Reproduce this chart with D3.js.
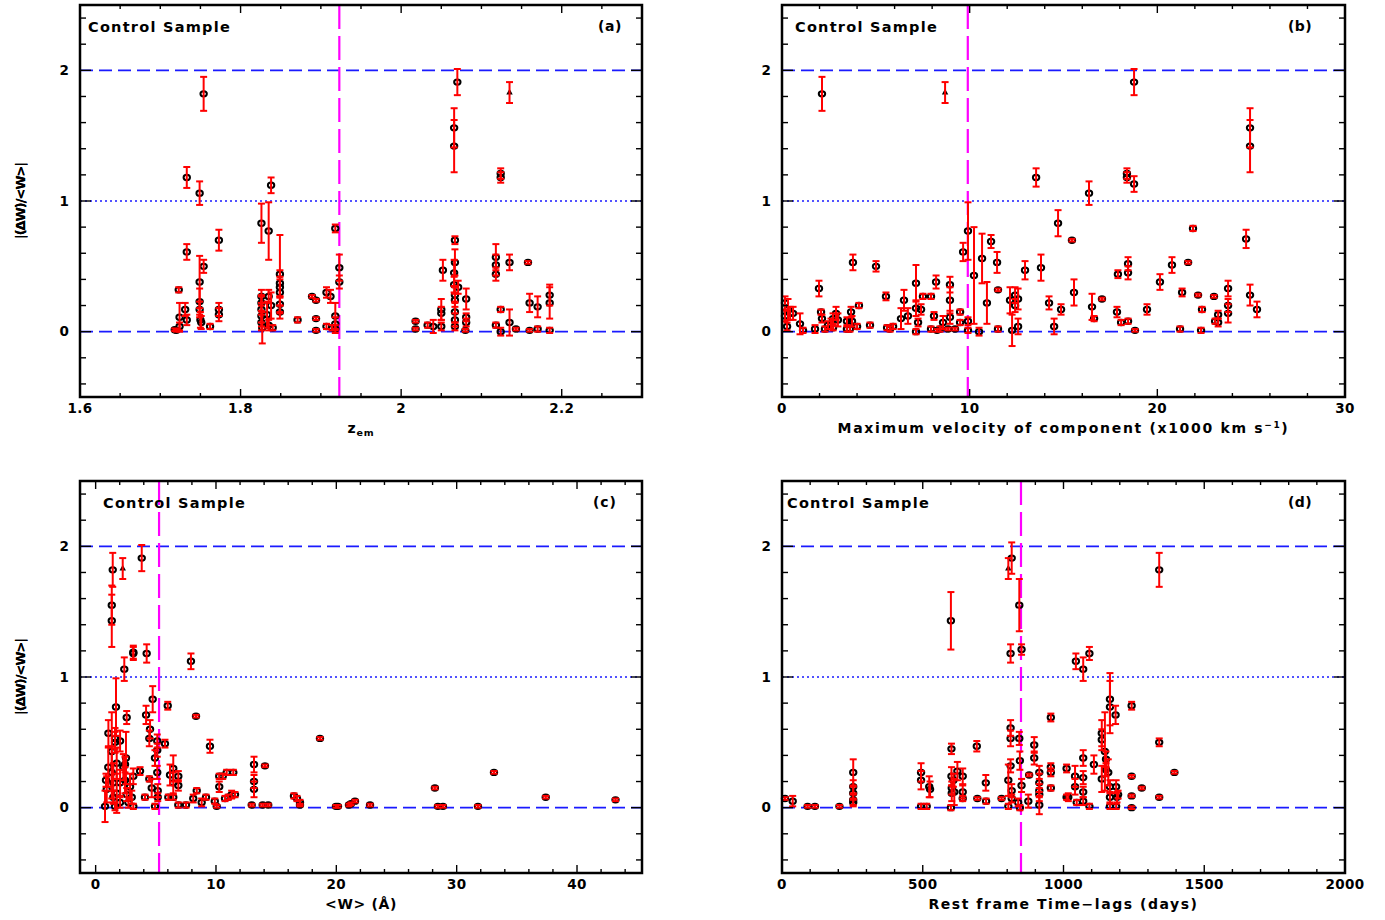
<!DOCTYPE html>
<html>
<head>
<meta charset="utf-8">
<script src="https://cdn.jsdelivr.net/npm/d3@7"></script>
<style>
  body { margin: 0; background: #fff; }
  text { font-family: "DejaVu Sans", sans-serif; font-weight: bold; fill: #000; }
</style>
</head>
<body>
<svg id="chart" width="1385" height="920"></svg>
<script>
(function() {

  // Shared y axis: |(dW)/<W>|
  const yDomain = [-0.5, 2.5];
  const yMajor = [0, 1, 2];

  // Each point: [x, |dW|/<W>, error]
  const zemPoints = [
    [1.718, 0.015, 0.01], [1.720, 0.01, 0.01], [1.723, 0.32, 0.02], [1.724, 0.11, 0.11],
    [1.724, 0.04, 0.03], [1.731, 0.17, 0.05], [1.733, 0.09, 0.04], [1.733, 0.61, 0.06],
    [1.733, 1.18, 0.08], [1.749, 1.06, 0.09], [1.749, 0.38, 0.2], [1.749, 0.23, 0.1],
    [1.749, 0.17, 0.06], [1.750, 0.09, 0.06], [1.751, 0.07, 0.05], [1.754, 1.82, 0.13],
    [1.754, 0.50, 0.05], [1.762, 0.04, 0.02], [1.773, 0.70, 0.08], [1.773, 0.17, 0.05],
    [1.773, 0.13, 0.05],
    [1.826, 0.83, 0.15], [1.826, 0.27, 0.05], [1.826, 0.22, 0.06], [1.826, 0.17, 0.1],
    [1.826, 0.12, 0.08], [1.826, 0.07, 0.06], [1.827, 0.03, 0.12], [1.833, 0.13, 0.1],
    [1.835, 0.77, 0.22], [1.835, 0.27, 0.05], [1.835, 0.05, 0.04], [1.838, 1.12, 0.06],
    [1.838, 0.20, 0.1], [1.840, 0.03, 0.02], [1.849, 0.44, 0.3], [1.849, 0.37, 0.1],
    [1.849, 0.34, 0.08], [1.849, 0.30, 0.1], [1.849, 0.21, 0.06], [1.849, 0.15, 0.05],
    [1.871, 0.09, 0.02], [1.889, 0.27, 0.01], [1.894, 0.24, 0.01], [1.894, 0.10, 0.01],
    [1.894, 0.01, 0.01], [1.907, 0.30, 0.04], [1.912, 0.27, 0.05], [1.907, 0.04, 0.02],
    [1.914, 0.03, 0.02], [1.918, 0.12, 0.1], [1.918, 0.06, 0.05], [1.918, 0.02, 0.03],
    [1.918, 0.79, 0.03], [1.923, 0.49, 0.1], [1.923, 0.38, 0.05],
    [2.018, 0.08, 0.01], [2.018, 0.02, 0.01], [2.033, 0.05, 0.02], [2.040, 0.04, 0.05],
    [2.050, 0.17, 0.08], [2.050, 0.14, 0.05], [2.050, 0.04, 0.03], [2.052, 0.47, 0.08],
    [2.066, 1.56, 0.15], [2.066, 1.42, 0.2], [2.067, 0.70, 0.03], [2.067, 0.53, 0.1],
    [2.066, 0.45, 0.1], [2.066, 0.36, 0.06], [2.067, 0.28, 0.06], [2.067, 0.24, 0.05],
    [2.067, 0.15, 0.08], [2.067, 0.09, 0.05], [2.067, 0.04, 0.03], [2.070, 1.91, 0.1],
    [2.071, 0.34, 0.05], [2.081, 0.25, 0.08], [2.081, 0.11, 0.03], [2.081, 0.07, 0.03],
    [2.080, 0.01, 0.01], [2.118, 0.57, 0.1], [2.118, 0.51, 0.08], [2.118, 0.44, 0.05],
    [2.118, 0.05, 0.02], [2.124, 1.21, 0.04], [2.124, 1.18, 0.04], [2.124, 0.17, 0.02],
    [2.124, 0.00, 0.03], [2.135, 0.53, 0.06], [2.135, 0.07, 0.1], [2.143, 0.02, 0.01],
    [2.158, 0.53, 0.01], [2.160, 0.22, 0.07], [2.160, 0.01, 0.01], [2.170, 0.19, 0.08],
    [2.170, 0.02, 0.02], [2.185, 0.28, 0.08], [2.185, 0.22, 0.12], [2.185, 0.01, 0.02]
  ];

  const velPoints = [
    [0.16, 0.22, 0.05], [0.16, 0.12, 0.04], [0.27, 0.04, 0.03], [0.32, 0.17, 0.08],
    [0.43, 0.14, 0.05], [0.59, 0.14, 0.05], [0.96, 0.06, 0.08], [1.12, 0.01, 0.02],
    [1.76, 0.02, 0.03], [1.97, 0.33, 0.06], [2.08, 0.15, 0.02], [2.13, 1.82, 0.13],
    [2.13, 0.10, 0.03], [2.29, 0.02, 0.02], [2.45, 0.05, 0.03], [2.61, 0.06, 0.04],
    [2.72, 0.10, 0.04], [2.88, 0.14, 0.05], [2.98, 0.09, 0.05], [2.72, 0.03, 0.02],
    [3.46, 0.08, 0.03], [3.46, 0.02, 0.02], [3.68, 0.15, 0.04], [3.73, 0.08, 0.04],
    [3.78, 0.53, 0.06], [3.62, 0.02, 0.02], [4.10, 0.20, 0.02], [4.00, 0.04, 0.02],
    [4.69, 0.05, 0.02], [5.01, 0.50, 0.04], [5.54, 0.27, 0.03], [5.60, 0.03, 0.02],
    [5.76, 0.02, 0.02], [5.92, 0.04, 0.02], [6.34, 0.10, 0.08], [6.50, 0.24, 0.08],
    [6.71, 0.12, 0.06], [7.14, 0.37, 0.14], [7.14, 0.18, 0.06], [7.14, 0.00, 0.02],
    [7.25, 0.07, 0.03], [7.41, 0.17, 0.04], [7.51, 0.27, 0.02], [7.94, 0.27, 0.02],
    [7.94, 0.02, 0.02], [8.10, 0.12, 0.03], [8.21, 0.38, 0.05], [8.26, 0.01, 0.01],
    [8.42, 0.02, 0.02], [8.58, 0.07, 0.05], [8.95, 0.36, 0.06], [8.95, 0.24, 0.10],
    [8.95, 0.11, 0.05], [8.85, 0.02, 0.01], [9.22, 0.02, 0.01], [9.49, 0.15, 0.02],
    [9.49, 0.07, 0.02], [9.65, 0.61, 0.07], [9.91, 0.77, 0.22], [9.91, 0.08, 0.03],
    [9.91, 0.01, 0.02], [10.23, 0.43, 0.37], [10.50, 0.00, 0.03], [10.66, 0.56, 0.19],
    [10.92, 0.22, 0.16], [11.14, 0.69, 0.05], [11.46, 0.53, 0.08], [11.51, 0.32, 0.01],
    [11.51, 0.02, 0.02], [12.15, 0.24, 0.10], [12.26, 0.01, 0.12], [12.42, 0.28, 0.06],
    [12.58, 0.25, 0.08], [12.58, 0.04, 0.06], [12.42, 0.20, 0.05], [12.95, 0.47, 0.07],
    [13.54, 1.18, 0.07], [13.80, 0.49, 0.10], [14.23, 0.22, 0.05], [14.50, 0.04, 0.06],
    [14.71, 0.83, 0.10], [14.87, 0.17, 0.04], [15.45, 0.70, 0.01], [15.56, 0.30, 0.10],
    [16.36, 1.06, 0.09], [16.52, 0.19, 0.10], [16.63, 0.10, 0.02], [17.05, 0.25, 0.01],
    [17.85, 0.15, 0.04], [17.90, 0.44, 0.03], [18.07, 0.07, 0.02], [18.38, 1.21, 0.04],
    [18.38, 1.18, 0.04], [18.44, 0.52, 0.05], [18.44, 0.45, 0.05], [18.44, 0.08, 0.02],
    [18.76, 1.91, 0.10], [18.76, 1.13, 0.06], [18.81, 0.01, 0.01], [19.45, 0.17, 0.04],
    [20.14, 0.38, 0.06], [20.78, 0.51, 0.06], [21.21, 0.02, 0.02], [21.32, 0.30, 0.03],
    [21.64, 0.53, 0.01], [21.90, 0.79, 0.02], [22.17, 0.28, 0.01], [22.33, 0.01, 0.02],
    [22.38, 0.17, 0.02], [23.02, 0.27, 0.01], [23.08, 0.08, 0.02], [23.24, 0.13, 0.03],
    [23.24, 0.07, 0.03], [23.77, 0.33, 0.06], [23.77, 0.20, 0.05], [23.77, 0.14, 0.07],
    [24.73, 0.71, 0.07], [24.94, 1.56, 0.15], [24.94, 1.42, 0.20], [24.94, 0.28, 0.08],
    [25.31, 0.17, 0.06]
  ];

  const ewPoints = [
    [0.78, 0.01, 0.12], [0.86, 0.21, 0.05], [0.92, 0.14, 0.10], [1.05, 0.31, 0.15],
    [1.06, 0.57, 0.10], [1.34, 1.55, 0.15], [1.34, 1.43, 0.20], [1.34, 0.43, 0.30],
    [1.34, 0.27, 0.20], [1.42, 1.82, 0.13], [1.47, 0.19, 0.15], [1.47, 0.08, 0.05],
    [1.61, 0.53, 0.08], [1.61, 0.50, 0.08], [1.61, 0.01, 0.03], [1.69, 0.77, 0.22],
    [1.75, 0.34, 0.12], [1.75, 0.11, 0.15], [2.03, 0.51, 0.08], [2.03, 0.19, 0.10],
    [2.03, 0.04, 0.04], [2.30, 0.31, 0.10], [2.38, 1.06, 0.09], [2.44, 0.21, 0.10],
    [2.52, 0.38, 0.20], [2.44, 0.33, 0.06], [2.58, 0.69, 0.05], [2.58, 0.10, 0.05],
    [2.72, 0.04, 0.04], [2.86, 0.16, 0.10], [3.00, 0.08, 0.05], [3.13, 1.19, 0.05],
    [3.13, 1.18, 0.05], [3.13, 0.24, 0.06], [3.13, 0.01, 0.02], [3.69, 0.28, 0.03],
    [3.83, 1.91, 0.10], [4.10, 0.08, 0.02], [4.19, 0.71, 0.07], [4.24, 1.18, 0.07],
    [4.46, 0.53, 0.06], [4.46, 0.22, 0.02], [4.52, 0.60, 0.07], [4.66, 0.15, 0.07],
    [4.74, 0.83, 0.10], [4.93, 0.38, 0.06], [4.93, 0.01, 0.02], [5.12, 0.51, 0.05],
    [5.12, 0.44, 0.05], [5.12, 0.27, 0.05], [5.16, 0.13, 0.05], [5.16, 0.08, 0.03],
    [5.76, 0.49, 0.03], [5.99, 0.78, 0.03], [6.04, 0.08, 0.02], [6.18, 0.25, 0.08],
    [6.45, 0.30, 0.10], [6.45, 0.19, 0.08], [6.45, 0.08, 0.02], [6.87, 0.24, 0.04],
    [6.87, 0.17, 0.04], [6.87, 0.02, 0.02], [7.51, 0.02, 0.02], [7.92, 1.12, 0.06],
    [8.11, 0.07, 0.03], [8.34, 0.70, 0.01], [8.40, 0.13, 0.02], [8.81, 0.04, 0.03],
    [9.17, 0.08, 0.02], [9.50, 0.47, 0.05], [9.90, 0.05, 0.02], [10.06, 0.01, 0.01],
    [10.27, 0.24, 0.02], [10.27, 0.16, 0.04], [10.56, 0.24, 0.02], [10.75, 0.07, 0.02],
    [10.89, 0.27, 0.02], [11.02, 0.08, 0.02], [11.30, 0.10, 0.03], [11.44, 0.27, 0.02],
    [11.58, 0.10, 0.02], [12.97, 0.02, 0.01], [13.16, 0.33, 0.06], [13.16, 0.20, 0.05],
    [13.16, 0.14, 0.06], [13.88, 0.02, 0.01], [14.07, 0.32, 0.01], [14.34, 0.02, 0.01],
    [16.48, 0.09, 0.02], [16.73, 0.07, 0.02], [16.98, 0.04, 0.02], [16.98, 0.02, 0.01],
    [18.64, 0.53, 0.01], [19.97, 0.01, 0.01], [20.14, 0.01, 0.01], [21.05, 0.02, 0.01],
    [21.22, 0.03, 0.01], [21.55, 0.05, 0.01], [22.80, 0.02, 0.01], [28.19, 0.15, 0.01],
    [28.44, 0.01, 0.01], [28.86, 0.01, 0.01], [31.77, 0.01, 0.01], [33.10, 0.27, 0.01],
    [37.40, 0.08, 0.01], [43.20, 0.06, 0.01]
  ];

  const lagPoints = [
    [10.7, 0.07, 0.01], [38, 0.05, 0.04], [91, 0.01, 0.01], [117, 0.01, 0.01],
    [204, 0.01, 0.01], [253, 0.27, 0.10], [253, 0.16, 0.05], [253, 0.11, 0.05],
    [253, 0.06, 0.04], [253, 0.04, 0.03], [494, 0.27, 0.07], [494, 0.21, 0.07],
    [494, 0.01, 0.02], [514, 0.01, 0.02], [523, 0.16, 0.08], [526, 0.14, 0.06],
    [600, 1.43, 0.22], [602, 0.45, 0.04], [602, 0.24, 0.07], [603, 0.15, 0.05],
    [603, 0.11, 0.06], [600, 0.00, 0.02], [609, 0.21, 0.05], [612, 0.12, 0.10],
    [623, 0.28, 0.07], [642, 0.24, 0.06], [642, 0.12, 0.05], [642, 0.07, 0.02],
    [692, 0.47, 0.04], [694, 0.07, 0.01], [724, 0.19, 0.06], [725, 0.05, 0.02],
    [780, 0.07, 0.01], [804, 0.21, 0.12], [804, 0.01, 0.02], [812, 1.18, 0.07],
    [812, 0.61, 0.06], [812, 0.53, 0.06], [812, 0.32, 0.05], [816, 1.91, 0.12],
    [816, 0.13, 0.05], [816, 0.07, 0.03], [843, 1.55, 0.20], [843, 0.53, 0.05],
    [845, 0.36, 0.07], [839, 0.04, 0.03], [845, 0.00, 0.02], [851, 1.21, 0.04],
    [851, 0.17, 0.05], [875, 0.05, 0.05], [878, 0.25, 0.01], [896, 0.48, 0.06],
    [896, 0.38, 0.05], [914, 0.27, 0.05], [914, 0.19, 0.07], [914, 0.13, 0.05],
    [914, 0.10, 0.05], [914, 0.02, 0.07], [955, 0.69, 0.03], [955, 0.31, 0.03],
    [955, 0.27, 0.03], [955, 0.15, 0.02], [1011, 0.30, 0.03], [1011, 0.08, 0.02],
    [1017, 0.08, 0.03], [1041, 0.24, 0.08], [1041, 0.16, 0.06], [1044, 1.12, 0.06],
    [1047, 0.04, 0.02], [1070, 1.06, 0.09], [1070, 0.38, 0.06], [1070, 0.23, 0.05],
    [1070, 0.12, 0.04], [1070, 0.05, 0.03], [1092, 1.18, 0.05], [1092, 0.01, 0.02],
    [1108, 0.33, 0.07], [1136, 0.57, 0.10], [1136, 0.52, 0.08], [1136, 0.22, 0.10],
    [1147, 0.43, 0.30], [1151, 0.37, 0.06], [1151, 0.29, 0.05], [1159, 0.27, 0.10],
    [1165, 0.83, 0.20], [1165, 0.77, 0.20], [1165, 0.16, 0.05], [1165, 0.08, 0.04],
    [1165, 0.01, 0.02], [1185, 0.71, 0.07], [1187, 0.16, 0.05], [1190, 0.08, 0.04],
    [1187, 0.01, 0.02], [1194, 0.10, 0.03], [1242, 0.78, 0.03], [1242, 0.24, 0.01],
    [1242, 0.09, 0.01], [1242, 0.00, 0.01], [1278, 0.15, 0.01], [1340, 1.82, 0.13],
    [1340, 0.50, 0.03], [1340, 0.08, 0.01], [1394, 0.27, 0.01]
  ];

  // The one point drawn with a triangle, x per panel, then its y and error
  const triangleX = [2.135, 8.69, 2.25, 804];
  const triangleY = [1.83, 0.08];

  // Magenta cut per panel
  const cutX = [1.923, 9.9, 5.27, 849];

  const zemTicks = [1.6, 1.8, 2, 2.2];
  const velTicks = [0, 10, 20, 30];
  const ewTicks = [0, 10, 20, 30, 40];
  const lagTicks = [0, 500, 1000, 1500, 2000];

  const panels = [
    { tag: "(a)", pts: zemPoints, xDomain: [1.6, 2.3], box: [80, 5, 642, 397],
      major: zemTicks, minor: d3.range(32, 47).map(d => d * 0.05),
      sampleX: 88, tagX: 598, title: "zem" },
    { tag: "(b)", pts: velPoints, xDomain: [0, 30], box: [782, 5, 1345, 397],
      major: velTicks, minor: d3.range(0, 31, 2),
      sampleX: 795, tagX: 1288, title: "vel" },
    { tag: "(c)", pts: ewPoints, xDomain: [-1.3, 45.4], box: [80, 481, 642, 873],
      major: ewTicks, minor: d3.range(0, 46, 2),
      sampleX: 103, tagX: 593, title: "ew" },
    { tag: "(d)", pts: lagPoints, xDomain: [0, 2000], box: [782, 481, 1345, 873],
      major: lagTicks, minor: d3.range(0, 2001, 100),
      sampleX: 787, tagX: 1288, title: "lag" }
  ];

  const BLUE = "#1a1aff";
  const MAGENTA = "#ff00ff";
  const RED = "#ff0000";

  const svg = d3.select("#chart");

  // stretch text by letter-spacing to a target width
  function fit(sel, width) {
    const node = sel.node();
    const n = node.textContent.length;
    const w = node.getComputedTextLength();
    sel.attr("letter-spacing", ((width - w) / n).toFixed(2));
    return sel;
  }

  panels.forEach((p, i) => {
    const [x0, y0, x1, y1] = p.box;
    const x = d3.scaleLinear().domain(p.xDomain).range([x0, x1]);
    const y = d3.scaleLinear().domain(yDomain).range([y1, y0]);
    const g = svg.append("g");

    // horizontal reference lines
    [[0, "13,6"], [2, "13,6"], [1, "2,3"]].forEach(([v, dash]) => {
      g.append("line")
        .attr("x1", x0).attr("x2", x1)
        .attr("y1", y(v)).attr("y2", y(v))
        .attr("stroke", BLUE).attr("stroke-width", 1.6)
        .attr("stroke-dasharray", dash);
    });

    // magenta cut
    g.append("line")
      .attr("x1", x(cutX[i])).attr("x2", x(cutX[i]))
      .attr("y1", y0).attr("y2", y1)
      .attr("stroke", MAGENTA).attr("stroke-width", 2.2)
      .attr("stroke-dasharray", "24,7");

    // markers
    g.selectAll("ellipse.pt").data(p.pts).join("ellipse")
      .attr("class", "pt")
      .attr("cx", d => x(d[0])).attr("cy", d => y(d[1]))
      .attr("rx", 3.2).attr("ry", 2.7)
      .attr("fill", "none").attr("stroke", "#000").attr("stroke-width", 2);

    const tri = [[triangleX[i], triangleY[0], triangleY[1]]];
    g.selectAll("path.tri").data(tri).join("path")
      .attr("class", "tri")
      .attr("transform", d => `translate(${x(d[0])},${y(d[1])})`)
      .attr("d", d3.symbol(d3.symbolTriangle, 18))
      .attr("fill", "#000");

    // error bars with caps
    const all = p.pts.concat(tri);
    const bars = g.selectAll("g.err").data(all).join("g").attr("class", "err")
      .attr("stroke", RED).attr("stroke-width", 2);
    bars.append("line")
      .attr("x1", d => x(d[0])).attr("x2", d => x(d[0]))
      .attr("y1", d => y(d[1] - d[2])).attr("y2", d => y(d[1] + d[2]));
    [-1, 1].forEach(s => {
      bars.append("line")
        .attr("x1", d => x(d[0]) - 3.5).attr("x2", d => x(d[0]) + 3.5)
        .attr("y1", d => y(d[1] + s * d[2])).attr("y2", d => y(d[1] + s * d[2]));
    });

    // ticks on all four sides
    const ticks = g.append("g").attr("stroke", "#000").attr("stroke-width", 1.4);
    p.major.forEach(v => {
      ticks.append("line").attr("x1", x(v)).attr("x2", x(v)).attr("y1", y1).attr("y2", y1 - 8);
      ticks.append("line").attr("x1", x(v)).attr("x2", x(v)).attr("y1", y0).attr("y2", y0 + 8);
    });
    p.minor.forEach(v => {
      if (p.major.some(m => Math.abs(m - v) < 1e-9)) return;
      ticks.append("line").attr("x1", x(v)).attr("x2", x(v)).attr("y1", y1).attr("y2", y1 - 4);
      ticks.append("line").attr("x1", x(v)).attr("x2", x(v)).attr("y1", y0).attr("y2", y0 + 4);
    });
    d3.range(-4, 25, 2).map(d => d / 10).forEach(v => {
      const len = yMajor.includes(v) ? 11 : 6;
      ticks.append("line").attr("x1", x0).attr("x2", x0 + len).attr("y1", y(v)).attr("y2", y(v));
      ticks.append("line").attr("x1", x1).attr("x2", x1 - len).attr("y1", y(v)).attr("y2", y(v));
    });

    // frame
    g.append("rect")
      .attr("x", x0).attr("y", y0).attr("width", x1 - x0).attr("height", y1 - y0)
      .attr("fill", "none").attr("stroke", "#000").attr("stroke-width", 2.5);

    // tick labels
    const fmt = d3.format("");
    g.selectAll("text.xt").data(p.major).join("text")
      .attr("class", "xt")
      .attr("x", d => x(d)).attr("y", y1 + 16)
      .attr("text-anchor", "middle").attr("font-size", 13.5).attr("letter-spacing", 0.4)
      .text(d => fmt(d));
    g.selectAll("text.yt").data(yMajor).join("text")
      .attr("class", "yt")
      .attr("x", x0 - 11).attr("y", d => y(d) + 4.5)
      .attr("text-anchor", "end").attr("font-size", 13.5)
      .text(d => d);

    // in-panel labels
    fit(g.append("text").attr("x", p.sampleX).attr("y", y0 + 27)
      .attr("font-size", 14.5).text("Control Sample"), 143);
    fit(g.append("text").attr("x", p.tagX).attr("y", y0 + 26)
      .attr("font-size", 14).text(p.tag), 24);

    // y title
    const cy = (y0 + y1) / 2;
    fit(g.append("text")
      .attr("transform", `translate(25,${cy}) rotate(-90)`)
      .attr("text-anchor", "middle").attr("font-size", 13)
      .text("|(\u0394W)/<W>|"), 76);

    // x title
    const ty = y1 + 36;
    const cx = (x0 + x1) / 2;
    if (p.title === "zem") {
      const t = g.append("text").attr("x", cx).attr("y", ty).attr("text-anchor", "middle").attr("font-size", 14);
      t.append("tspan").text("z");
      t.append("tspan").attr("font-size", 9.5).attr("dy", 3).text("em");
      fit(t, 27);
    } else if (p.title === "vel") {
      const t = g.append("text").attr("x", cx).attr("y", ty).attr("text-anchor", "middle").attr("font-size", 14);
      t.append("tspan").text("Maximum velocity of component (x1000 km s");
      t.append("tspan").attr("font-size", 9).attr("dy", -5).text("\u22121");
      t.append("tspan").attr("dy", 5).text(")");
      fit(t, 452);
    } else if (p.title === "ew") {
      fit(g.append("text").attr("x", cx).attr("y", ty).attr("text-anchor", "middle")
        .attr("font-size", 14).text("<W> (\u00c5)"), 72);
    } else {
      fit(g.append("text").attr("x", cx).attr("y", ty).attr("text-anchor", "middle")
        .attr("font-size", 14).text("Rest frame Time\u2212lags (days)"), 270);
    }
  });

})();
</script>
</body>
</html>
